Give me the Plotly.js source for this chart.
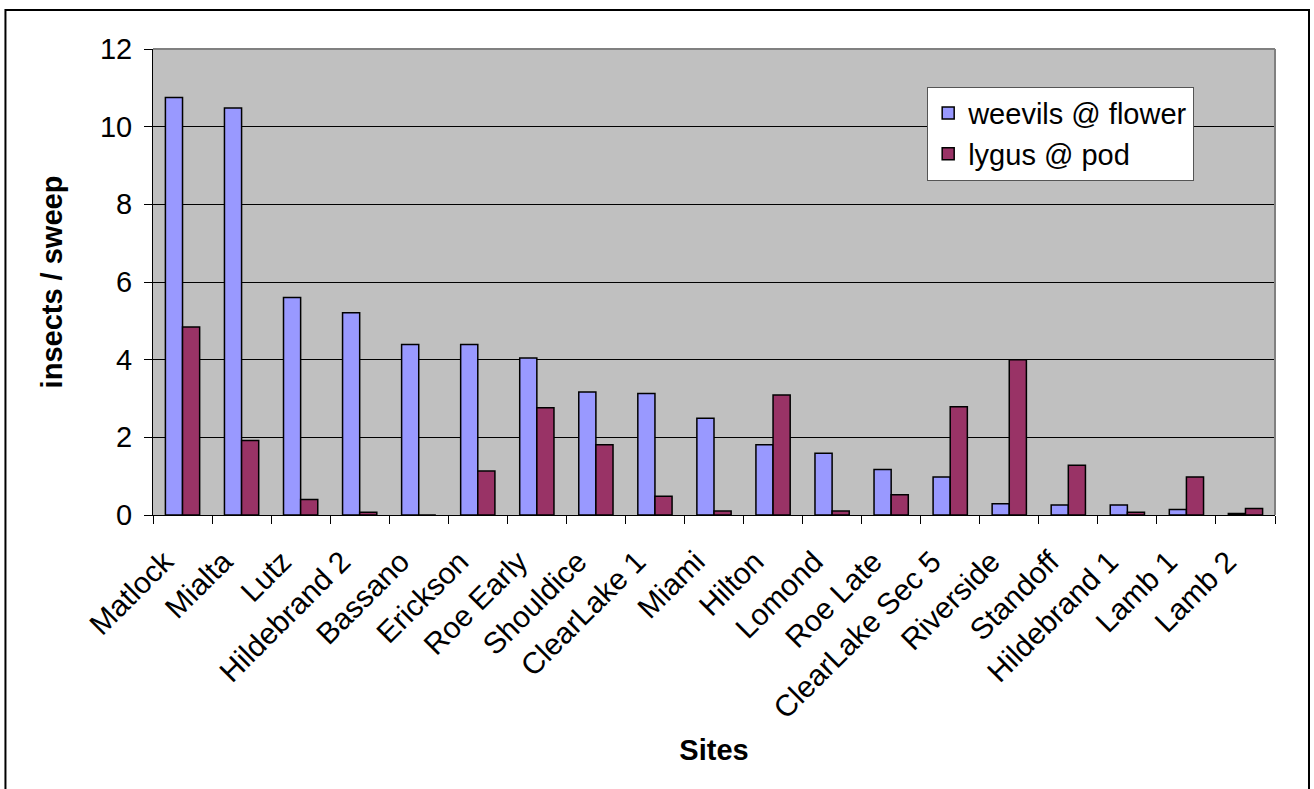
<!DOCTYPE html>
<html>
<head>
<meta charset="utf-8">
<script src="https://cdn.plot.ly/plotly-3.0.1.min.js"></script>
<style>
  html, body { margin: 0; padding: 0; background: #fff; }
  #chart { width: 1314px; height: 789px; }
</style>
</head>
<body>
<div id="chart"></div>
<script>
const sites = ["Matlock", "Mialta", "Lutz", "Hildebrand 2", "Bassano", "Erickson", "Roe Early",
  "Shouldice", "ClearLake 1", "Miami", "Hilton", "Lomond", "Roe Late", "ClearLake Sec 5",
  "Riverside", "Standoff", "Hildebrand 1", "Lamb 1", "Lamb 2"];
const weevils = [10.75, 10.48, 5.6, 5.21, 4.39, 4.39, 4.04, 3.17, 3.13, 2.49, 1.81, 1.59, 1.17, 0.98, 0.29, 0.26, 0.26, 0.14, 0.04];
const lygus = [4.84, 1.92, 0.4, 0.07, 0, 1.13, 2.76, 1.81, 0.48, 0.1, 3.09, 0.1, 0.52, 2.79, 4.0, 1.28, 0.07, 0.98, 0.17];
const yTicks = [0, 2, 4, 6, 8, 10, 12];

const fam = "Arial, 'Liberation Sans', sans-serif";
const font = { family: fam, size: 28, color: "#000" };

const traces = [
  { type: "bar", name: "weevils @ flower", x: sites, y: weevils,
    marker: { color: "#9999FF", line: { color: "#000", width: 1.5 } } },
  { type: "bar", name: "lygus @ pod", x: sites, y: lygus,
    marker: { color: "#993366", line: { color: "#000", width: 1.5 } } }
];

const layout = {
  width: 1314, height: 789,
  margin: { l: 153, r: 39, t: 49, b: 274 },
  paper_bgcolor: "#ffffff",
  plot_bgcolor: "#C0C0C0",
  font: font,
  barmode: "group",
  bargap: 0.42,
  bargroupgap: 0,
  showlegend: true,
  legend: {
    x: 0.69, y: 0.919, xanchor: "left", yanchor: "top",
    bgcolor: "#ffffff", bordercolor: "#555", borderwidth: 1,
    font: { family: fam, size: 29, color: "#000" }
  },
  xaxis: {
    type: "category",
    tickangle: -45,
    tickson: "boundaries",
    ticks: "outside", ticklen: 8, tickcolor: "#000",
    showline: true, linecolor: "#000", linewidth: 1,
    showgrid: false,
    tickfont: { family: fam, size: 30, color: "#000" },
    ticklabelstandoff: 16,
    ticklabelshift: -18,
    title: { text: "<b>Sites</b>", font: { family: fam, size: 29, color: "#000" }, standoff: 16 },
    automargin: false
  },
  yaxis: {
    range: [0, 12],
    tickvals: yTicks,
    ticktext: yTicks.map(String),
    ticks: "outside", ticklen: 8, tickcolor: "#000",
    showline: true, linecolor: "#000", linewidth: 1,
    showgrid: true, gridcolor: "#000", gridwidth: 1,
    zeroline: false,
    tickfont: { family: fam, size: 29, color: "#000" },
    ticklabelstandoff: 6,
    title: { text: "<b>insects / sweep</b>", font: { family: fam, size: 29, color: "#000" }, standoff: 28 },
    automargin: false
  },
  shapes: [
    { type: "line", xref: "paper", yref: "paper", x0: 0, x1: 1, y0: 1, y1: 1,
      line: { color: "#808080", width: 2 } },
    { type: "line", xref: "paper", yref: "paper", x0: 1, x1: 1, y0: 0, y1: 1,
      line: { color: "#808080", width: 2 } },
    { type: "rect", xref: "paper", yref: "paper",
      x0: -0.1315, x1: 1.0303, y0: -0.6, y1: 1.0837,
      line: { color: "#000", width: 2 }, fillcolor: "rgba(0,0,0,0)" }
  ]
};

Plotly.newPlot("chart", traces, layout, { displayModeBar: false, staticPlot: true });
</script>
</body>
</html>
